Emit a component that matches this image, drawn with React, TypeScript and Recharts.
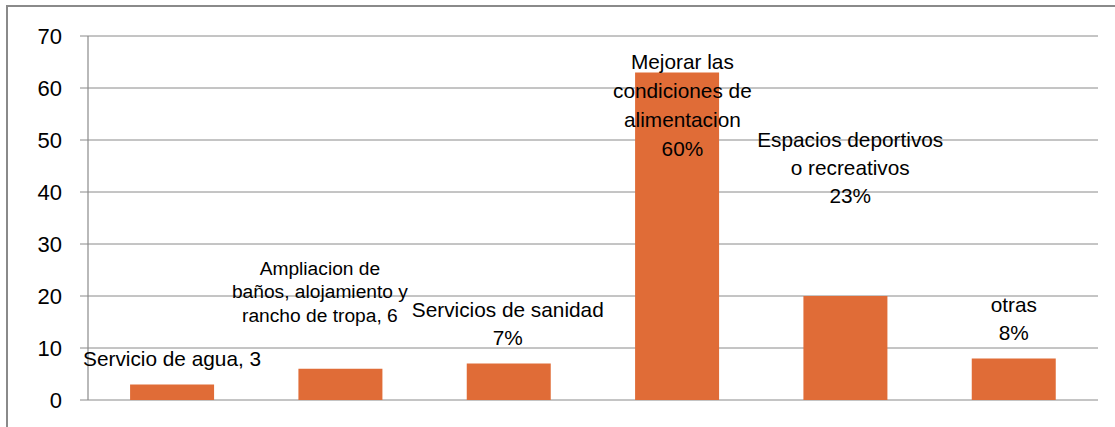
import React from 'react';
import { BarChart, Bar, XAxis, YAxis, CartesianGrid, LabelList } from 'recharts';

const categories = [
  'Servicio de agua',
  'Ampliacion de baños, alojamiento y rancho de tropa',
  'Servicios de sanidad',
  'Mejorar las condiciones de alimentacion',
  'Espacios deportivos o recreativos',
  'otras',
];
const values = [3, 6, 7, 63, 20, 8];
const labelLines: string[][] = [
  ['Servicio de agua, 3'],
  ['Ampliacion de', 'baños, alojamiento y', 'rancho de tropa, 6'],
  ['Servicios de sanidad', '7%'],
  ['Mejorar las', 'condiciones de', 'alimentacion', '60%'],
  ['Espacios deportivos', 'o recreativos', '23%'],
  ['otras', '8%'],
];
const yTicks = [0, 10, 20, 30, 40, 50, 60, 70];

// label placement (style only): offset of the text centre from bar centre,
// first baseline offset from bar top, line height, font size
const labelPlacement = [
  { dx: 0, dy: -18, lh: 28.3, fs: 20.8 },
  { dx: -20.5, dy: -94, lh: 23.6, fs: 19.2 },
  { dx: -1, dy: -47, lh: 28.3, fs: 20.8 },
  { dx: 5.3, dy: -3, lh: 28.7, fs: 20.8 },
  { dx: 4.8, dy: -148.6, lh: 28, fs: 20.8 },
  { dx: 0, dy: -46.7, lh: 28.3, fs: 20.8 },
];

const data = categories.map((name, i) => ({ name, value: values[i] }));

const FONT = '"Liberation Sans", Arial, sans-serif';
const GRID = '#8a8a8a';
const BAR = '#E06C37';

const renderLabel = (props: any) => {
  const { x, y, width, index } = props;
  const p = labelPlacement[index];
  const lines = labelLines[index];
  const cx = Number(x) + Number(width) / 2 + p.dx;
  const by = Number(y) + p.dy;
  return (
    <text
      key={`lbl-${index}`}
      x={cx}
      y={by}
      textAnchor="middle"
      fontFamily={FONT}
      fontSize={p.fs}
      fill="#000"
    >
      {lines.map((l, k) => (
        <tspan key={k} x={cx} y={by + k * p.lh}>
          {l}
        </tspan>
      ))}
    </text>
  );
};

export default function App() {
  return (
    <div style={{ position: 'absolute', left: 0, top: 0, width: 1115, height: 427, background: '#fff', overflow: 'hidden' }}>
      <div
        style={{
          position: 'absolute',
          left: 6,
          top: 5,
          width: 1200,
          height: 600,
          borderTop: `2px solid ${GRID}`,
          borderLeft: `2px solid ${GRID}`,
          boxSizing: 'border-box',
        }}
      />
      <div style={{ position: 'absolute', left: 0, top: 0 }}>
        <BarChart
          width={1115}
          height={427}
          data={data}
          margin={{ top: 36, right: 17, bottom: 27, left: 0 }}
          barCategoryGap="25%"
        >
          <CartesianGrid vertical={false} stroke={GRID} strokeWidth={1} />
          <XAxis
            dataKey="name"
            tick={false}
            tickLine={false}
            height={0}
            axisLine={{ stroke: GRID, strokeWidth: 1.2 }}
          />
          <YAxis
            domain={[0, 70]}
            ticks={yTicks}
            interval={0}
            width={88}
            tickSize={8}
            tickMargin={18}
            tickLine={{ stroke: GRID }}
            axisLine={{ stroke: GRID, strokeWidth: 1.2 }}
            tick={{ fill: '#000', fontSize: 22, fontFamily: FONT }}
          />
          <Bar dataKey="value" fill={BAR} isAnimationActive={false}>
            <LabelList dataKey="value" content={renderLabel} />
          </Bar>
        </BarChart>
      </div>
    </div>
  );
}
